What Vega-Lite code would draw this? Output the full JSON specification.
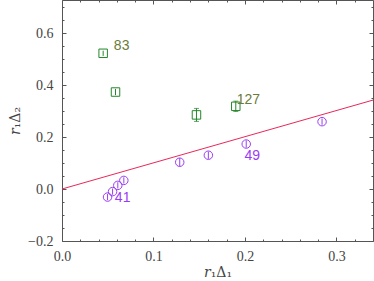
{
  "$schema": "https://vega.github.io/schema/vega-lite/v6.json",
  "width": 311,
  "height": 241,
  "autosize": {"type": "none"},
  "padding": {"left": 62, "top": 0, "right": 1, "bottom": 40},
  "background": "white",
  "config": {
    "view": {"stroke": null},
    "axis": {
      "grid": false,
      "domainColor": "#555555",
      "tickColor": "#555555",
      "labelFont": "Liberation Serif",
      "labelFontSize": 14,
      "labelColor": "#444444",
      "titleFont": "DejaVu Serif",
      "titleFontSize": 14,
      "titleFontWeight": "normal",
      "titleColor": "#444444",
      "labelOverlap": false,
      "labelFlush": false
    }
  },
  "datasets": {
    "fit": [{"x": 0, "y": 0}, {"x": 0.34, "y": 0.342}],
    "pts": [
      {"x": 0.0498, "y": -0.031, "e": 0.012, "s": "ci"},
      {"x": 0.0553, "y": -0.010, "e": 0.012, "s": "ci"},
      {"x": 0.061, "y": 0.014, "e": 0.012, "s": "ci"},
      {"x": 0.0676, "y": 0.033, "e": 0.012, "s": "ci"},
      {"x": 0.1287, "y": 0.103, "e": 0.016, "s": "ci"},
      {"x": 0.160, "y": 0.130, "e": 0.014, "s": "ci"},
      {"x": 0.2014, "y": 0.173, "e": 0.014, "s": "ci"},
      {"x": 0.2843, "y": 0.259, "e": 0.012, "s": "ci"},
      {"x": 0.045, "y": 0.522, "e": 0.01, "s": "sq"},
      {"x": 0.0585, "y": 0.373, "e": 0.012, "s": "sq"},
      {"x": 0.147, "y": 0.285, "e": 0.025, "s": "sq"},
      {"x": 0.190, "y": 0.318, "e": 0.02, "s": "sq"}
    ],
    "labels": [
      {"x": 0.0567, "y": 0.550, "t": "83", "s": "sqlab"},
      {"x": 0.191, "y": 0.342, "t": "127", "s": "sqlab"},
      {"x": 0.1996, "y": 0.127, "t": "49", "s": "ci"},
      {"x": 0.0578, "y": -0.033, "t": "41", "s": "ci"}
    ]
  },
  "resolve": {"axis": {"x": "independent", "y": "independent"}},
  "layer": [
    {
      "data": {"name": "fit"},
      "mark": {"type": "line", "color": "#e8285a", "strokeWidth": 1},
      "encoding": {
        "x": {"field": "x", "type": "quantitative",
          "scale": {"domain": [0, 0.34], "nice": false, "zero": false},
          "axis": {"orient": "bottom", "values": [0, 0.1, 0.2, 0.3], "format": ".1f", "tickSize": -4, "labelPadding": 12, "labelFont": "Liberation Serif", "title": "𝑟₁Δ₁", "titlePadding": 2}},
        "y": {"field": "y", "type": "quantitative",
          "scale": {"domain": [-0.2, 0.727], "nice": false, "zero": false},
          "axis": {"orient": "left", "values": [-0.2, 0, 0.2, 0.4, 0.6], "format": ".1f", "tickSize": -4, "labelPadding": 13, "labelFont": "Liberation Serif", "title": "𝑟₁Δ₂", "titlePadding": 5}}
      }
    },
    {
      "data": {"name": "pts"},
      "mark": {"type": "rule", "strokeWidth": 1},
      "encoding": {
        "x": {"field": "x", "type": "quantitative",
          "axis": {"orient": "top", "values": [0, 0.1, 0.2, 0.3], "labels": false, "tickSize": -4, "title": null}},
        "y": {"field": "lo", "type": "quantitative",
          "axis": {"orient": "right", "values": [-0.2, 0, 0.2, 0.4, 0.6], "labels": false, "tickSize": -4, "title": null}},
        "y2": {"field": "hi"},
        "color": {"field": "s", "type": "nominal", "legend": null,
          "scale": {"domain": ["ci", "sq", "sqlab"], "range": ["#9b3cf5", "#23862a", "#6b7b3b"]}}
      },
      "transform": [
        {"calculate": "datum.y - datum.e", "as": "lo"},
        {"calculate": "datum.y + datum.e", "as": "hi"}
      ]
    },
    {
      "data": {"name": "pts"},
      "mark": {"type": "point", "filled": false, "strokeWidth": 1, "size": 72, "opacity": 1},
      "encoding": {
        "x": {"field": "x", "type": "quantitative",
          "axis": {"orient": "bottom", "values": [0.02, 0.04, 0.06, 0.08, 0.12, 0.14, 0.16, 0.18, 0.22, 0.24, 0.26, 0.28, 0.32, 0.34], "labels": false, "domain": false, "tickSize": -2, "title": null}},
        "y": {"field": "y", "type": "quantitative",
          "axis": {"orient": "left", "values": [-0.15, -0.1, -0.05, 0.05, 0.1, 0.15, 0.25, 0.3, 0.35, 0.45, 0.5, 0.55, 0.65, 0.7], "labels": false, "domain": false, "tickSize": -2, "title": null}},
        "shape": {"field": "s", "type": "nominal", "legend": null,
          "scale": {"domain": ["ci", "sq"], "range": ["circle", "square"]}},
        "color": {"field": "s", "type": "nominal", "legend": null}
      }
    },
    {
      "data": {"name": "pts"},
      "transform": [
        {"filter": "datum.e >= 0.02"},
        {"calculate": "datum.y - datum.e", "as": "lo"},
        {"calculate": "datum.y + datum.e", "as": "hi"},
        {"fold": ["lo", "hi"], "as": ["k", "v"]}
      ],
      "mark": {"type": "tick", "orient": "horizontal", "size": 5, "thickness": 1},
      "encoding": {
        "x": {"field": "x", "type": "quantitative",
          "axis": {"orient": "top", "values": [0.02, 0.04, 0.06, 0.08, 0.12, 0.14, 0.16, 0.18, 0.22, 0.24, 0.26, 0.28, 0.32, 0.34], "labels": false, "domain": false, "tickSize": -2, "title": null}},
        "y": {"field": "v", "type": "quantitative",
          "axis": {"orient": "right", "values": [-0.15, -0.1, -0.05, 0.05, 0.1, 0.15, 0.25, 0.3, 0.35, 0.45, 0.5, 0.55, 0.65, 0.7], "labels": false, "domain": false, "tickSize": -2, "title": null}},
        "color": {"field": "s", "type": "nominal", "legend": null}
      }
    },
    {
      "data": {"name": "labels"},
      "mark": {"type": "text", "align": "left", "baseline": "middle", "font": "Liberation Sans", "fontSize": 14},
      "encoding": {
        "x": {"field": "x", "type": "quantitative", "axis": null},
        "y": {"field": "y", "type": "quantitative", "axis": null},
        "text": {"field": "t"},
        "color": {"field": "s", "type": "nominal", "legend": null}
      }
    }
  ]
}
